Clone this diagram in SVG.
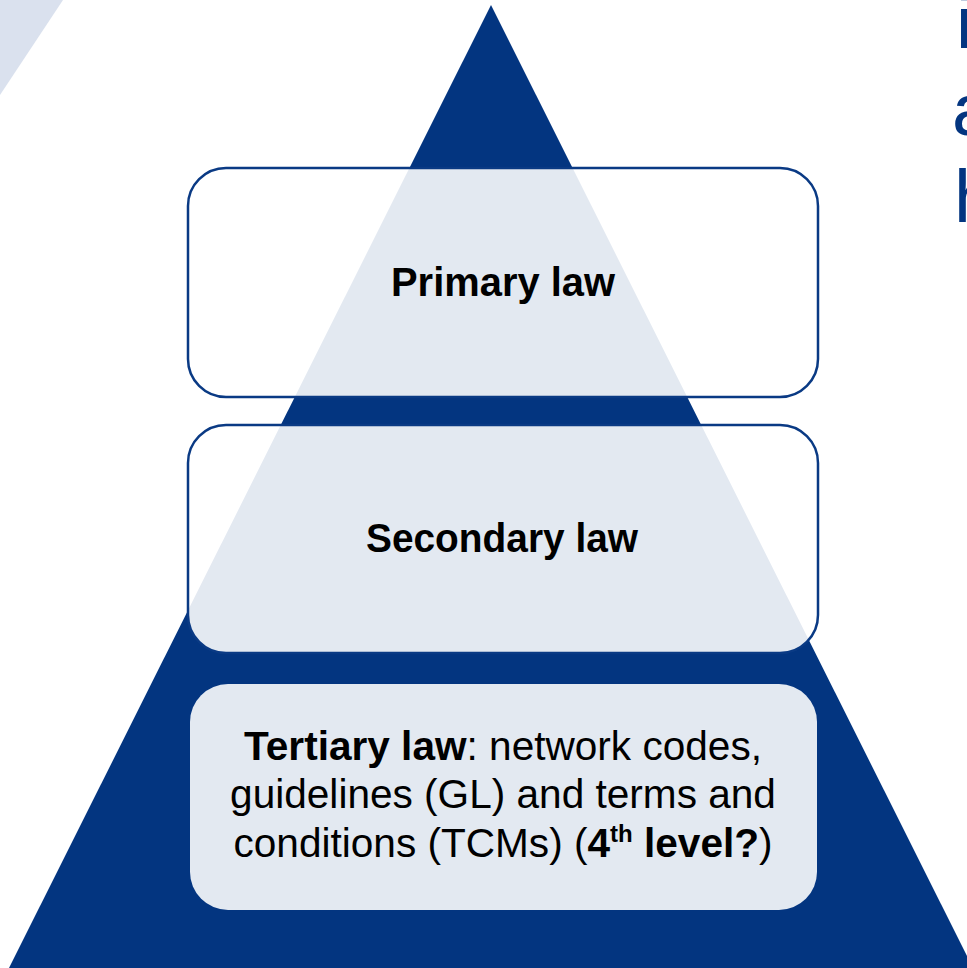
<svg xmlns="http://www.w3.org/2000/svg" width="967" height="968" viewBox="0 0 967 968">
  <style>
    .box { fill: #FFFFFF; fill-opacity: 0.89; stroke: #0A3A84; stroke-width: 2.5; }
    .box3 { fill: #FFFFFF; fill-opacity: 0.89; stroke: none; }
    .lbl { font-family: "Liberation Sans", Arial, sans-serif; font-size: 40px; fill: #000000; text-anchor: middle; }
    .t3 { font-size: 40.6px; }
    .b { font-weight: bold; }
    .title { font-family: "Liberation Sans", Arial, sans-serif; font-size: 75px; fill: #033580; }
  </style>
  <rect x="0" y="0" width="967" height="968" fill="#FFFFFF"/>
  <polygon points="0,0 63,0 0,95" fill="#DAE1EE"/>
  <polygon id="pyramid" points="491,5 973,968 9,968" fill="#033580"/>
  <g id="title">
    <text class="title" x="956" y="48">i</text>
    <text class="title" x="952" y="135">a</text>
    <text class="title" x="954" y="222">h</text>
  </g>
  <g id="connectors"></g>
  <g id="primary">
    <rect class="box" x="188" y="168" width="630" height="229" rx="38" ry="38"/>
    <text class="lbl b" x="503" y="296" textLength="224" lengthAdjust="spacingAndGlyphs">Primary law</text>
  </g>
  <g id="secondary">
    <rect class="box" x="188" y="425" width="630" height="228" rx="38" ry="38"/>
    <text class="lbl b" x="502" y="552" textLength="272" lengthAdjust="spacingAndGlyphs">Secondary law</text>
  </g>
  <g id="tertiary">
    <rect class="box3" x="190" y="684" width="627" height="226" rx="38" ry="38"/>
    <text class="lbl t3" x="503" y="760"><tspan class="b">Tertiary law</tspan>: network codes,</text>
    <text class="lbl t3" x="503" y="808">guidelines (GL) and terms and</text>
    <text class="lbl t3" x="503" y="857">conditions (TCMs) (<tspan class="b">4</tspan><tspan class="b" font-size="24" dy="-15">th</tspan><tspan class="b" dy="15"> level?</tspan>)</text>
  </g>
</svg>
